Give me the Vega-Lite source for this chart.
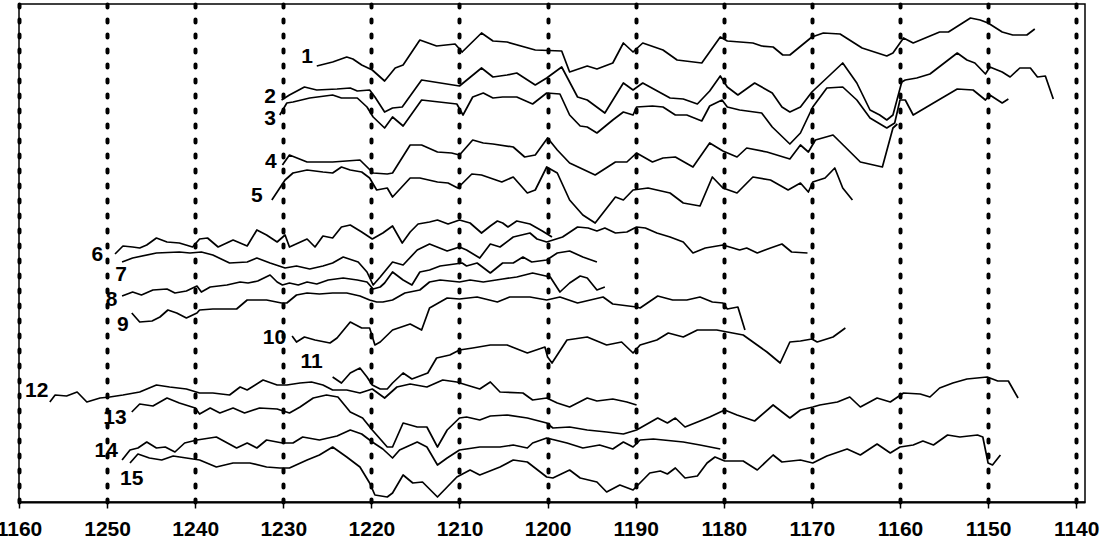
{
  "$schema": "https://vega.github.io/schema/vega-lite/v6.json",
  "width": 1066,
  "height": 498,
  "autosize": {"type": "none"},
  "padding": {"left": 19, "top": 4, "right": 19, "bottom": 46},
  "background": "white",
  "config": {"view": {"stroke": "black", "strokeWidth": 1.5}},
  "datasets": {
    "curves": [
      {"s":1,"w":1226.2,"a":436},{"s":1,"w":1224.4,"a":440},{"s":1,"w":1222.8,"a":445},{"s":1,"w":1222.1,"a":443},{"s":1,"w":1221.1,"a":437},{"s":1,"w":1219.9,"a":432},{"s":1,"w":1218.5,"a":421},{"s":1,"w":1217.3,"a":434},{"s":1,"w":1216.4,"a":437},{"s":1,"w":1214.5,"a":462},{"s":1,"w":1212.6,"a":456},{"s":1,"w":1210.5,"a":458},{"s":1,"w":1209.7,"a":450},{"s":1,"w":1207.5,"a":469},{"s":1,"w":1206.2,"a":461},{"s":1,"w":1204.6,"a":460},{"s":1,"w":1201.4,"a":452},{"s":1,"w":1198.4,"a":451},{"s":1,"w":1197.5,"a":430},{"s":1,"w":1195.5,"a":436},{"s":1,"w":1194.4,"a":433},{"s":1,"w":1192.6,"a":439},{"s":1,"w":1191.4,"a":459},{"s":1,"w":1190.3,"a":450},{"s":1,"w":1189.2,"a":459},{"s":1,"w":1186.9,"a":452},{"s":1,"w":1185.3,"a":442},{"s":1,"w":1182.5,"a":439},{"s":1,"w":1180.4,"a":465},{"s":1,"w":1179.6,"a":461},{"s":1,"w":1176.7,"a":459},{"s":1,"w":1175.7,"a":456},{"s":1,"w":1174.4,"a":455},{"s":1,"w":1173.3,"a":447},{"s":1,"w":1172.5,"a":447},{"s":1,"w":1170.0,"a":465},{"s":1,"w":1168.7,"a":469},{"s":1,"w":1166.8,"a":468},{"s":1,"w":1164.3,"a":454},{"s":1,"w":1161.5,"a":446},{"s":1,"w":1160.8,"a":449},{"s":1,"w":1159.6,"a":464},{"s":1,"w":1158.5,"a":459},{"s":1,"w":1155.5,"a":470},{"s":1,"w":1154.5,"a":470},{"s":1,"w":1152.0,"a":484},{"s":1,"w":1150.9,"a":482},{"s":1,"w":1150.0,"a":479},{"s":1,"w":1148.4,"a":470},{"s":1,"w":1147.2,"a":467},{"s":1,"w":1145.6,"a":467},{"s":1,"w":1144.7,"a":473},
      {"s":2,"w":1230.2,"a":402},{"s":2,"w":1229.3,"a":407},{"s":2,"w":1227.6,"a":415},{"s":2,"w":1226.2,"a":412},{"s":2,"w":1223.9,"a":413},{"s":2,"w":1222.4,"a":414},{"s":2,"w":1221.6,"a":411},{"s":2,"w":1220.2,"a":412},{"s":2,"w":1219.6,"a":405},{"s":2,"w":1218.5,"a":390},{"s":2,"w":1217.6,"a":394},{"s":2,"w":1216.5,"a":395},{"s":2,"w":1214.3,"a":422},{"s":2,"w":1210.0,"a":416},{"s":2,"w":1207.5,"a":434},{"s":2,"w":1206.2,"a":425},{"s":2,"w":1204.6,"a":427},{"s":2,"w":1203.5,"a":429},{"s":2,"w":1201.4,"a":417},{"s":2,"w":1200.1,"a":424},{"s":2,"w":1198.4,"a":435},{"s":2,"w":1196.6,"a":405},{"s":2,"w":1195.5,"a":402},{"s":2,"w":1193.5,"a":389},{"s":2,"w":1191.4,"a":419},{"s":2,"w":1190.3,"a":412},{"s":2,"w":1189.2,"a":419},{"s":2,"w":1186.1,"a":404},{"s":2,"w":1184.6,"a":403},{"s":2,"w":1183.0,"a":398},{"s":2,"w":1181.6,"a":411},{"s":2,"w":1180.4,"a":426},{"s":2,"w":1179.6,"a":415},{"s":2,"w":1178.4,"a":407},{"s":2,"w":1176.5,"a":419},{"s":2,"w":1174.5,"a":409},{"s":2,"w":1173.4,"a":395},{"s":2,"w":1172.5,"a":390},{"s":2,"w":1171.3,"a":395},{"s":2,"w":1170.0,"a":410},{"s":2,"w":1166.5,"a":439},{"s":2,"w":1164.9,"a":419},{"s":2,"w":1163.4,"a":392},{"s":2,"w":1162.3,"a":387},{"s":2,"w":1161.5,"a":382},{"s":2,"w":1160.8,"a":387},{"s":2,"w":1159.8,"a":420},{"s":2,"w":1159.4,"a":422},{"s":2,"w":1158.1,"a":424},{"s":2,"w":1156.6,"a":428},{"s":2,"w":1153.5,"a":449},{"s":2,"w":1152.4,"a":442},{"s":2,"w":1151.5,"a":439},{"s":2,"w":1150.3,"a":428},{"s":2,"w":1149.8,"a":435},{"s":2,"w":1148.4,"a":430},{"s":2,"w":1147.5,"a":425},{"s":2,"w":1146.4,"a":434},{"s":2,"w":1145.2,"a":434},{"s":2,"w":1144.4,"a":425},{"s":2,"w":1143.5,"a":426},{"s":2,"w":1142.6,"a":403},
      {"s":3,"w":1230.4,"a":387},{"s":3,"w":1229.6,"a":399},{"s":3,"w":1228.9,"a":400},{"s":3,"w":1227.0,"a":404},{"s":3,"w":1224.4,"a":407},{"s":3,"w":1223.4,"a":404},{"s":3,"w":1221.6,"a":404},{"s":3,"w":1220.5,"a":395},{"s":3,"w":1219.8,"a":385},{"s":3,"w":1218.5,"a":374},{"s":3,"w":1217.6,"a":385},{"s":3,"w":1216.4,"a":376},{"s":3,"w":1214.3,"a":402},{"s":3,"w":1210.3,"a":398},{"s":3,"w":1209.6,"a":387},{"s":3,"w":1208.5,"a":405},{"s":3,"w":1207.3,"a":409},{"s":3,"w":1206.2,"a":404},{"s":3,"w":1205.1,"a":405},{"s":3,"w":1203.5,"a":405},{"s":3,"w":1201.7,"a":398},{"s":3,"w":1200.1,"a":409},{"s":3,"w":1198.6,"a":408},{"s":3,"w":1197.5,"a":387},{"s":3,"w":1196.3,"a":376},{"s":3,"w":1195.5,"a":375},{"s":3,"w":1194.4,"a":369},{"s":3,"w":1192.6,"a":382},{"s":3,"w":1191.4,"a":390},{"s":3,"w":1190.3,"a":387},{"s":3,"w":1189.9,"a":395},{"s":3,"w":1188.1,"a":396},{"s":3,"w":1186.9,"a":395},{"s":3,"w":1185.5,"a":387},{"s":3,"w":1184.2,"a":387},{"s":3,"w":1182.5,"a":381},{"s":3,"w":1181.6,"a":396},{"s":3,"w":1180.2,"a":402},{"s":3,"w":1179.6,"a":395},{"s":3,"w":1178.2,"a":392},{"s":3,"w":1175.7,"a":389},{"s":3,"w":1174.5,"a":375},{"s":3,"w":1172.5,"a":358},{"s":3,"w":1171.3,"a":369},{"s":3,"w":1169.9,"a":395},{"s":3,"w":1168.3,"a":414},{"s":3,"w":1166.5,"a":415},{"s":3,"w":1164.9,"a":402},{"s":3,"w":1163.4,"a":384},{"s":3,"w":1161.5,"a":374},{"s":3,"w":1160.6,"a":379},{"s":3,"w":1160.0,"a":402},{"s":3,"w":1159.4,"a":402},{"s":3,"w":1158.5,"a":387},{"s":3,"w":1156.2,"a":399},{"s":3,"w":1153.5,"a":413},{"s":3,"w":1151.7,"a":412},{"s":3,"w":1150.3,"a":402},{"s":3,"w":1149.8,"a":407},{"s":3,"w":1148.4,"a":399},{"s":3,"w":1147.7,"a":403},
      {"s":4,"w":1230.1,"a":337},{"s":4,"w":1229.3,"a":347},{"s":4,"w":1227.3,"a":340},{"s":4,"w":1224.4,"a":340},{"s":4,"w":1221.3,"a":342},{"s":4,"w":1219.8,"a":329},{"s":4,"w":1218.2,"a":328},{"s":4,"w":1217.6,"a":329},{"s":4,"w":1215.6,"a":357},{"s":4,"w":1214.3,"a":357},{"s":4,"w":1212.5,"a":350},{"s":4,"w":1210.9,"a":349},{"s":4,"w":1210.0,"a":347},{"s":4,"w":1208.5,"a":362},{"s":4,"w":1207.3,"a":359},{"s":4,"w":1206.2,"a":358},{"s":4,"w":1203.9,"a":355},{"s":4,"w":1202.6,"a":345},{"s":4,"w":1201.4,"a":347},{"s":4,"w":1200.0,"a":364},{"s":4,"w":1198.9,"a":352},{"s":4,"w":1197.5,"a":339},{"s":4,"w":1194.6,"a":327},{"s":4,"w":1192.3,"a":340},{"s":4,"w":1191.0,"a":340},{"s":4,"w":1189.9,"a":349},{"s":4,"w":1188.1,"a":340},{"s":4,"w":1186.9,"a":344},{"s":4,"w":1185.5,"a":345},{"s":4,"w":1183.5,"a":335},{"s":4,"w":1181.6,"a":359},{"s":4,"w":1180.1,"a":351},{"s":4,"w":1178.5,"a":345},{"s":4,"w":1177.4,"a":354},{"s":4,"w":1175.1,"a":350},{"s":4,"w":1172.5,"a":343},{"s":4,"w":1171.3,"a":357},{"s":4,"w":1170.4,"a":350},{"s":4,"w":1169.6,"a":362},{"s":4,"w":1167.6,"a":367},{"s":4,"w":1164.5,"a":340},{"s":4,"w":1162.0,"a":335},{"s":4,"w":1160.8,"a":374},{"s":4,"w":1160.3,"a":378},
      {"s":5,"w":1231.3,"a":302},{"s":5,"w":1229.8,"a":322},{"s":5,"w":1228.9,"a":329},{"s":5,"w":1227.3,"a":332},{"s":5,"w":1225.5,"a":330},{"s":5,"w":1224.4,"a":329},{"s":5,"w":1223.4,"a":335},{"s":5,"w":1222.4,"a":332},{"s":5,"w":1221.1,"a":330},{"s":5,"w":1220.2,"a":324},{"s":5,"w":1219.4,"a":312},{"s":5,"w":1218.2,"a":314},{"s":5,"w":1217.6,"a":305},{"s":5,"w":1215.6,"a":324},{"s":5,"w":1214.5,"a":324},{"s":5,"w":1212.5,"a":320},{"s":5,"w":1211.3,"a":319},{"s":5,"w":1210.2,"a":314},{"s":5,"w":1208.6,"a":328},{"s":5,"w":1207.5,"a":327},{"s":5,"w":1205.2,"a":320},{"s":5,"w":1203.9,"a":325},{"s":5,"w":1202.3,"a":309},{"s":5,"w":1201.4,"a":312},{"s":5,"w":1200.1,"a":335},{"s":5,"w":1198.9,"a":329},{"s":5,"w":1197.5,"a":302},{"s":5,"w":1196.0,"a":287},{"s":5,"w":1194.6,"a":279},{"s":5,"w":1192.3,"a":305},{"s":5,"w":1191.4,"a":302},{"s":5,"w":1190.3,"a":312},{"s":5,"w":1188.6,"a":314},{"s":5,"w":1186.1,"a":309},{"s":5,"w":1184.6,"a":299},{"s":5,"w":1182.7,"a":296},{"s":5,"w":1181.3,"a":325},{"s":5,"w":1180.1,"a":314},{"s":5,"w":1178.5,"a":309},{"s":5,"w":1176.7,"a":325},{"s":5,"w":1174.7,"a":322},{"s":5,"w":1172.7,"a":312},{"s":5,"w":1171.3,"a":319},{"s":5,"w":1170.4,"a":310},{"s":5,"w":1169.9,"a":320},{"s":5,"w":1168.5,"a":324},{"s":5,"w":1167.4,"a":334},{"s":5,"w":1166.5,"a":314},{"s":5,"w":1165.4,"a":302},
      {"s":6,"w":1249.1,"a":248},{"s":6,"w":1248.2,"a":256},{"s":6,"w":1247.1,"a":255},{"s":6,"w":1246.3,"a":254},{"s":6,"w":1245.5,"a":257},{"s":6,"w":1244.4,"a":264},{"s":6,"w":1243.2,"a":260},{"s":6,"w":1241.8,"a":259},{"s":6,"w":1240.3,"a":255},{"s":6,"w":1239.5,"a":263},{"s":6,"w":1238.6,"a":264},{"s":6,"w":1237.4,"a":255},{"s":6,"w":1235.7,"a":262},{"s":6,"w":1234.1,"a":256},{"s":6,"w":1233.0,"a":272},{"s":6,"w":1231.9,"a":267},{"s":6,"w":1230.7,"a":260},{"s":6,"w":1229.8,"a":267},{"s":6,"w":1229.3,"a":255},{"s":6,"w":1227.3,"a":263},{"s":6,"w":1226.4,"a":255},{"s":6,"w":1225.5,"a":266},{"s":6,"w":1224.4,"a":264},{"s":6,"w":1223.4,"a":275},{"s":6,"w":1222.4,"a":277},{"s":6,"w":1221.1,"a":270},{"s":6,"w":1219.9,"a":263},{"s":6,"w":1218.7,"a":269},{"s":6,"w":1217.6,"a":276},{"s":6,"w":1216.5,"a":259},{"s":6,"w":1215.6,"a":270},{"s":6,"w":1214.7,"a":278},{"s":6,"w":1213.4,"a":280},{"s":6,"w":1212.5,"a":282},{"s":6,"w":1211.3,"a":278},{"s":6,"w":1210.0,"a":282},{"s":6,"w":1208.8,"a":279},{"s":6,"w":1207.5,"a":269},{"s":6,"w":1206.5,"a":276},{"s":6,"w":1205.7,"a":281},{"s":6,"w":1205.1,"a":279},{"s":6,"w":1204.5,"a":275},{"s":6,"w":1203.5,"a":281},{"s":6,"w":1202.0,"a":278},{"s":6,"w":1200.6,"a":271},{"s":6,"w":1199.5,"a":265},
      {"s":7,"w":1248.3,"a":240},{"s":7,"w":1247.1,"a":244},{"s":7,"w":1244.4,"a":249},{"s":7,"w":1241.8,"a":250},{"s":7,"w":1240.6,"a":249},{"s":7,"w":1239.3,"a":250},{"s":7,"w":1238.0,"a":247},{"s":7,"w":1236.1,"a":239},{"s":7,"w":1234.1,"a":240},{"s":7,"w":1233.0,"a":244},{"s":7,"w":1231.5,"a":239},{"s":7,"w":1229.8,"a":234},{"s":7,"w":1228.5,"a":236},{"s":7,"w":1227.0,"a":233},{"s":7,"w":1225.5,"a":236},{"s":7,"w":1224.4,"a":239},{"s":7,"w":1223.2,"a":245},{"s":7,"w":1221.5,"a":240},{"s":7,"w":1220.5,"a":230},{"s":7,"w":1219.8,"a":217},{"s":7,"w":1219.0,"a":225},{"s":7,"w":1217.6,"a":240},{"s":7,"w":1216.4,"a":237},{"s":7,"w":1214.8,"a":252},{"s":7,"w":1213.4,"a":258},{"s":7,"w":1211.4,"a":251},{"s":7,"w":1210.0,"a":255},{"s":7,"w":1209.2,"a":252},{"s":7,"w":1207.7,"a":244},{"s":7,"w":1206.5,"a":258},{"s":7,"w":1205.4,"a":255},{"s":7,"w":1203.9,"a":265},{"s":7,"w":1202.0,"a":269},{"s":7,"w":1201.2,"a":263},{"s":7,"w":1200.1,"a":260},{"s":7,"w":1198.3,"a":265},{"s":7,"w":1196.6,"a":275},{"s":7,"w":1195.4,"a":274},{"s":7,"w":1194.4,"a":271},{"s":7,"w":1193.5,"a":274},{"s":7,"w":1192.3,"a":269},{"s":7,"w":1191.0,"a":270},{"s":7,"w":1189.9,"a":275},{"s":7,"w":1188.9,"a":274},{"s":7,"w":1187.6,"a":269},{"s":7,"w":1186.1,"a":265},{"s":7,"w":1184.6,"a":260},{"s":7,"w":1183.5,"a":249},{"s":7,"w":1182.1,"a":254},{"s":7,"w":1180.1,"a":257},{"s":7,"w":1178.2,"a":252},{"s":7,"w":1177.4,"a":254},{"s":7,"w":1176.2,"a":249},{"s":7,"w":1174.7,"a":254},{"s":7,"w":1173.4,"a":258},{"s":7,"w":1172.3,"a":250},{"s":7,"w":1170.5,"a":249},
      {"s":8,"w":1248.3,"a":206},{"s":8,"w":1247.1,"a":210},{"s":8,"w":1246.1,"a":207},{"s":8,"w":1244.8,"a":212},{"s":8,"w":1243.2,"a":213},{"s":8,"w":1242.3,"a":209},{"s":8,"w":1241.0,"a":211},{"s":8,"w":1239.8,"a":216},{"s":8,"w":1239.3,"a":210},{"s":8,"w":1238.3,"a":215},{"s":8,"w":1236.4,"a":217},{"s":8,"w":1234.9,"a":220},{"s":8,"w":1234.0,"a":219},{"s":8,"w":1232.9,"a":221},{"s":8,"w":1231.5,"a":227},{"s":8,"w":1230.7,"a":220},{"s":8,"w":1230.1,"a":217},{"s":8,"w":1229.3,"a":219},{"s":8,"w":1228.3,"a":217},{"s":8,"w":1227.3,"a":220},{"s":8,"w":1226.2,"a":218},{"s":8,"w":1224.9,"a":222},{"s":8,"w":1223.2,"a":224},{"s":8,"w":1221.6,"a":222},{"s":8,"w":1220.5,"a":220},{"s":8,"w":1219.8,"a":213},{"s":8,"w":1219.0,"a":215},{"s":8,"w":1218.5,"a":219},{"s":8,"w":1217.6,"a":230},{"s":8,"w":1216.4,"a":222},{"s":8,"w":1215.4,"a":217},{"s":8,"w":1214.5,"a":230},{"s":8,"w":1213.4,"a":232},{"s":8,"w":1212.2,"a":236},{"s":8,"w":1209.7,"a":239},{"s":8,"w":1209.2,"a":236},{"s":8,"w":1208.0,"a":239},{"s":8,"w":1206.5,"a":229},{"s":8,"w":1205.1,"a":239},{"s":8,"w":1203.9,"a":239},{"s":8,"w":1202.8,"a":245},{"s":8,"w":1201.8,"a":240},{"s":8,"w":1200.1,"a":242},{"s":8,"w":1198.9,"a":249},{"s":8,"w":1197.5,"a":251},{"s":8,"w":1196.0,"a":245},{"s":8,"w":1194.4,"a":240},
      {"s":9,"w":1247.2,"a":189},{"s":9,"w":1246.3,"a":180},{"s":9,"w":1244.9,"a":181},{"s":9,"w":1244.0,"a":185},{"s":9,"w":1243.1,"a":192},{"s":9,"w":1242.1,"a":189},{"s":9,"w":1241.0,"a":184},{"s":9,"w":1239.8,"a":189},{"s":9,"w":1239.5,"a":192},{"s":9,"w":1238.0,"a":193},{"s":9,"w":1235.3,"a":193},{"s":9,"w":1234.1,"a":202},{"s":9,"w":1231.9,"a":202},{"s":9,"w":1230.2,"a":199},{"s":9,"w":1229.6,"a":199},{"s":9,"w":1228.5,"a":207},{"s":9,"w":1227.3,"a":209},{"s":9,"w":1225.9,"a":208},{"s":9,"w":1224.4,"a":209},{"s":9,"w":1222.8,"a":209},{"s":9,"w":1221.3,"a":206},{"s":9,"w":1220.2,"a":202},{"s":9,"w":1219.4,"a":200},{"s":9,"w":1218.7,"a":200},{"s":9,"w":1217.6,"a":202},{"s":9,"w":1216.2,"a":209},{"s":9,"w":1214.5,"a":212},{"s":9,"w":1213.4,"a":220},{"s":9,"w":1212.2,"a":222},{"s":9,"w":1210.0,"a":220},{"s":9,"w":1208.8,"a":222},{"s":9,"w":1207.3,"a":220},{"s":9,"w":1205.1,"a":223},{"s":9,"w":1203.5,"a":225},{"s":9,"w":1201.7,"a":229},{"s":9,"w":1199.7,"a":225},{"s":9,"w":1198.6,"a":210},{"s":9,"w":1197.5,"a":219},{"s":9,"w":1196.3,"a":226},{"s":9,"w":1195.5,"a":224},{"s":9,"w":1194.4,"a":212},{"s":9,"w":1193.5,"a":215},
      {"s":10,"w":1229.0,"a":166},{"s":10,"w":1228.5,"a":160},{"s":10,"w":1227.6,"a":165},{"s":10,"w":1226.4,"a":162},{"s":10,"w":1224.7,"a":159},{"s":10,"w":1223.9,"a":164},{"s":10,"w":1222.4,"a":180},{"s":10,"w":1221.1,"a":174},{"s":10,"w":1220.2,"a":174},{"s":10,"w":1219.6,"a":157},{"s":10,"w":1219.0,"a":160},{"s":10,"w":1217.6,"a":172},{"s":10,"w":1215.6,"a":178},{"s":10,"w":1214.3,"a":172},{"s":10,"w":1213.4,"a":194},{"s":10,"w":1211.4,"a":204},{"s":10,"w":1210.0,"a":203},{"s":10,"w":1208.0,"a":205},{"s":10,"w":1205.7,"a":200},{"s":10,"w":1204.3,"a":205},{"s":10,"w":1202.0,"a":205},{"s":10,"w":1200.1,"a":202},{"s":10,"w":1198.6,"a":205},{"s":10,"w":1196.6,"a":199},{"s":10,"w":1193.7,"a":205},{"s":10,"w":1192.6,"a":198},{"s":10,"w":1189.9,"a":195},{"s":10,"w":1189.5,"a":194},{"s":10,"w":1187.5,"a":206},{"s":10,"w":1185.8,"a":202},{"s":10,"w":1184.2,"a":202},{"s":10,"w":1182.7,"a":205},{"s":10,"w":1181.3,"a":200},{"s":10,"w":1180.1,"a":199},{"s":10,"w":1179.6,"a":193},{"s":10,"w":1178.4,"a":195},{"s":10,"w":1177.6,"a":172},
      {"s":11,"w":1224.4,"a":125},{"s":11,"w":1223.4,"a":119},{"s":11,"w":1222.4,"a":129},{"s":11,"w":1221.3,"a":134},{"s":11,"w":1220.5,"a":125},{"s":11,"w":1219.9,"a":117},{"s":11,"w":1219.0,"a":113},{"s":11,"w":1218.2,"a":113},{"s":11,"w":1217.6,"a":119},{"s":11,"w":1216.4,"a":129},{"s":11,"w":1215.4,"a":123},{"s":11,"w":1213.6,"a":129},{"s":11,"w":1212.6,"a":144},{"s":11,"w":1211.1,"a":147},{"s":11,"w":1210.0,"a":152},{"s":11,"w":1208.5,"a":154},{"s":11,"w":1206.5,"a":157},{"s":11,"w":1204.6,"a":157},{"s":11,"w":1202.3,"a":149},{"s":11,"w":1200.3,"a":155},{"s":11,"w":1200.0,"a":145},{"s":11,"w":1199.5,"a":139},{"s":11,"w":1197.8,"a":162},{"s":11,"w":1195.5,"a":165},{"s":11,"w":1193.3,"a":157},{"s":11,"w":1191.6,"a":160},{"s":11,"w":1190.3,"a":149},{"s":11,"w":1189.5,"a":157},{"s":11,"w":1187.6,"a":162},{"s":11,"w":1186.3,"a":169},{"s":11,"w":1184.6,"a":165},{"s":11,"w":1183.0,"a":172},{"s":11,"w":1180.8,"a":172},{"s":11,"w":1179.6,"a":170},{"s":11,"w":1177.8,"a":167},{"s":11,"w":1175.1,"a":150},{"s":11,"w":1173.6,"a":139},{"s":11,"w":1172.5,"a":160},{"s":11,"w":1171.3,"a":161},{"s":11,"w":1170.0,"a":163},{"s":11,"w":1169.4,"a":160},{"s":11,"w":1167.6,"a":165},{"s":11,"w":1166.2,"a":174},
      {"s":12,"w":1256.5,"a":100},{"s":12,"w":1255.9,"a":107},{"s":12,"w":1254.6,"a":106},{"s":12,"w":1253.4,"a":110},{"s":12,"w":1252.3,"a":100},{"s":12,"w":1250.8,"a":104},{"s":12,"w":1249.7,"a":105},{"s":12,"w":1248.2,"a":107},{"s":12,"w":1246.3,"a":110},{"s":12,"w":1244.4,"a":117},{"s":12,"w":1242.9,"a":115},{"s":12,"w":1241.0,"a":113},{"s":12,"w":1239.5,"a":109},{"s":12,"w":1238.0,"a":109},{"s":12,"w":1236.1,"a":107},{"s":12,"w":1234.9,"a":115},{"s":12,"w":1234.1,"a":112},{"s":12,"w":1232.3,"a":122},{"s":12,"w":1230.7,"a":117},{"s":12,"w":1229.6,"a":117},{"s":12,"w":1228.1,"a":119},{"s":12,"w":1226.8,"a":120},{"s":12,"w":1225.5,"a":117},{"s":12,"w":1224.4,"a":112},{"s":12,"w":1222.8,"a":112},{"s":12,"w":1221.3,"a":109},{"s":12,"w":1219.9,"a":113},{"s":12,"w":1218.5,"a":104},{"s":12,"w":1217.1,"a":115},{"s":12,"w":1215.6,"a":118},{"s":12,"w":1213.7,"a":115},{"s":12,"w":1211.9,"a":122},{"s":12,"w":1210.3,"a":120},{"s":12,"w":1209.2,"a":117},{"s":12,"w":1207.7,"a":113},{"s":12,"w":1206.5,"a":120},{"s":12,"w":1205.4,"a":110},{"s":12,"w":1202.8,"a":109},{"s":12,"w":1201.7,"a":102},{"s":12,"w":1200.1,"a":104},{"s":12,"w":1198.9,"a":99},{"s":12,"w":1197.5,"a":95},{"s":12,"w":1195.5,"a":104},{"s":12,"w":1194.4,"a":101},{"s":12,"w":1192.6,"a":103},{"s":12,"w":1191.0,"a":100},{"s":12,"w":1189.9,"a":97},
      {"s":13,"w":1247.2,"a":90},{"s":13,"w":1246.3,"a":98},{"s":13,"w":1244.8,"a":96},{"s":13,"w":1243.2,"a":104},{"s":13,"w":1241.8,"a":99},{"s":13,"w":1240.0,"a":94},{"s":13,"w":1239.5,"a":88},{"s":13,"w":1238.3,"a":94},{"s":13,"w":1237.2,"a":89},{"s":13,"w":1235.7,"a":94},{"s":13,"w":1234.4,"a":89},{"s":13,"w":1232.7,"a":94},{"s":13,"w":1230.7,"a":93},{"s":13,"w":1229.3,"a":89},{"s":13,"w":1228.1,"a":95},{"s":13,"w":1226.6,"a":104},{"s":13,"w":1225.1,"a":107},{"s":13,"w":1223.8,"a":105},{"s":13,"w":1222.4,"a":90},{"s":13,"w":1221.0,"a":84},{"s":13,"w":1219.9,"a":72},{"s":13,"w":1218.2,"a":55},{"s":13,"w":1217.6,"a":55},{"s":13,"w":1216.4,"a":79},{"s":13,"w":1214.8,"a":75},{"s":13,"w":1213.7,"a":75},{"s":13,"w":1212.5,"a":55},{"s":13,"w":1211.4,"a":72},{"s":13,"w":1210.0,"a":84},{"s":13,"w":1209.2,"a":85},{"s":13,"w":1207.7,"a":82},{"s":13,"w":1206.5,"a":86},{"s":13,"w":1204.6,"a":87},{"s":13,"w":1202.3,"a":84},{"s":13,"w":1200.1,"a":79},{"s":13,"w":1199.4,"a":74},{"s":13,"w":1197.5,"a":75},{"s":13,"w":1195.5,"a":72},{"s":13,"w":1193.3,"a":70},{"s":13,"w":1191.4,"a":68},{"s":13,"w":1189.9,"a":72},{"s":13,"w":1187.5,"a":84},{"s":13,"w":1186.4,"a":79},{"s":13,"w":1185.5,"a":84},{"s":13,"w":1184.4,"a":75},{"s":13,"w":1182.7,"a":81},{"s":13,"w":1181.6,"a":85},{"s":13,"w":1179.9,"a":92},{"s":13,"w":1178.5,"a":87},{"s":13,"w":1176.5,"a":81},{"s":13,"w":1174.4,"a":97},{"s":13,"w":1172.5,"a":84},{"s":13,"w":1171.3,"a":92},{"s":13,"w":1169.9,"a":95},{"s":13,"w":1169.1,"a":97},{"s":13,"w":1167.1,"a":100},{"s":13,"w":1165.7,"a":105},{"s":13,"w":1164.5,"a":95},{"s":13,"w":1162.6,"a":104},{"s":13,"w":1161.1,"a":100},{"s":13,"w":1159.6,"a":109},{"s":13,"w":1157.7,"a":108},{"s":13,"w":1156.6,"a":105},{"s":13,"w":1155.5,"a":114},{"s":13,"w":1154.0,"a":119},{"s":13,"w":1152.4,"a":123},{"s":13,"w":1150.1,"a":125},{"s":13,"w":1148.9,"a":121},{"s":13,"w":1147.7,"a":121},{"s":13,"w":1146.6,"a":104},
      {"s":14,"w":1248.3,"a":42},{"s":14,"w":1247.4,"a":52},{"s":14,"w":1246.5,"a":54},{"s":14,"w":1245.5,"a":60},{"s":14,"w":1244.4,"a":54},{"s":14,"w":1243.4,"a":55},{"s":14,"w":1242.3,"a":50},{"s":14,"w":1241.2,"a":59},{"s":14,"w":1239.8,"a":62},{"s":14,"w":1237.6,"a":65},{"s":14,"w":1235.3,"a":54},{"s":14,"w":1234.1,"a":59},{"s":14,"w":1233.0,"a":54},{"s":14,"w":1231.9,"a":62},{"s":14,"w":1230.1,"a":59},{"s":14,"w":1228.9,"a":59},{"s":14,"w":1227.8,"a":65},{"s":14,"w":1225.9,"a":62},{"s":14,"w":1223.9,"a":66},{"s":14,"w":1222.4,"a":72},{"s":14,"w":1221.1,"a":68},{"s":14,"w":1219.9,"a":60},{"s":14,"w":1218.7,"a":53},{"s":14,"w":1217.6,"a":44},{"s":14,"w":1216.8,"a":52},{"s":14,"w":1214.8,"a":60},{"s":14,"w":1213.7,"a":55},{"s":14,"w":1212.5,"a":37},{"s":14,"w":1211.4,"a":44},{"s":14,"w":1210.0,"a":52},{"s":14,"w":1207.7,"a":55},{"s":14,"w":1205.4,"a":55},{"s":14,"w":1203.9,"a":57},{"s":14,"w":1202.3,"a":54},{"s":14,"w":1201.7,"a":59},{"s":14,"w":1200.1,"a":64},{"s":14,"w":1197.8,"a":59},{"s":14,"w":1196.0,"a":54},{"s":14,"w":1194.1,"a":57},{"s":14,"w":1192.6,"a":53},{"s":14,"w":1191.4,"a":60},{"s":14,"w":1190.3,"a":55},{"s":14,"w":1189.5,"a":62},{"s":14,"w":1188.0,"a":63},{"s":14,"w":1184.6,"a":60},{"s":14,"w":1182.7,"a":57},{"s":14,"w":1180.4,"a":53},
      {"s":15,"w":1247.4,"a":39},{"s":15,"w":1246.5,"a":48},{"s":15,"w":1245.2,"a":44},{"s":15,"w":1243.8,"a":42},{"s":15,"w":1242.5,"a":46},{"s":15,"w":1241.0,"a":44},{"s":15,"w":1239.5,"a":42},{"s":15,"w":1237.6,"a":35},{"s":15,"w":1235.7,"a":39},{"s":15,"w":1233.8,"a":39},{"s":15,"w":1231.9,"a":35},{"s":15,"w":1230.4,"a":34},{"s":15,"w":1229.3,"a":34},{"s":15,"w":1227.3,"a":42},{"s":15,"w":1225.9,"a":47},{"s":15,"w":1224.4,"a":55},{"s":15,"w":1222.8,"a":45},{"s":15,"w":1221.3,"a":35},{"s":15,"w":1220.2,"a":19},{"s":15,"w":1219.6,"a":7},{"s":15,"w":1218.2,"a":5},{"s":15,"w":1217.6,"a":9},{"s":15,"w":1216.4,"a":27},{"s":15,"w":1215.3,"a":19},{"s":15,"w":1214.2,"a":20},{"s":15,"w":1212.5,"a":5},{"s":15,"w":1211.4,"a":15},{"s":15,"w":1210.3,"a":25},{"s":15,"w":1208.8,"a":32},{"s":15,"w":1207.7,"a":27},{"s":15,"w":1205.4,"a":35},{"s":15,"w":1203.9,"a":42},{"s":15,"w":1202.3,"a":40},{"s":15,"w":1200.1,"a":25},{"s":15,"w":1199.4,"a":24},{"s":15,"w":1197.5,"a":32},{"s":15,"w":1196.3,"a":24},{"s":15,"w":1194.4,"a":20},{"s":15,"w":1193.3,"a":10},{"s":15,"w":1191.8,"a":17},{"s":15,"w":1190.3,"a":12},{"s":15,"w":1188.4,"a":29},{"s":15,"w":1187.2,"a":31},{"s":15,"w":1186.4,"a":28},{"s":15,"w":1185.5,"a":34},{"s":15,"w":1184.4,"a":24},{"s":15,"w":1183.0,"a":26},{"s":15,"w":1181.9,"a":39},{"s":15,"w":1181.0,"a":45},{"s":15,"w":1179.9,"a":41},{"s":15,"w":1177.8,"a":41},{"s":15,"w":1176.2,"a":32},{"s":15,"w":1174.4,"a":47},{"s":15,"w":1173.4,"a":40},{"s":15,"w":1171.3,"a":42},{"s":15,"w":1169.9,"a":39},{"s":15,"w":1168.3,"a":46},{"s":15,"w":1166.0,"a":53},{"s":15,"w":1164.5,"a":47},{"s":15,"w":1162.6,"a":58},{"s":15,"w":1161.1,"a":49},{"s":15,"w":1160.0,"a":55},{"s":15,"w":1158.5,"a":57},{"s":15,"w":1157.4,"a":61},{"s":15,"w":1156.2,"a":57},{"s":15,"w":1154.6,"a":67},{"s":15,"w":1153.2,"a":65},{"s":15,"w":1151.2,"a":67},{"s":15,"w":1150.6,"a":65},{"s":15,"w":1150.0,"a":39},{"s":15,"w":1149.5,"a":37},{"s":15,"w":1148.6,"a":47}
    ],
    "labels": [
      {"t":"1","w":1227.3,"a":445},{"t":"2","w":1231.5,"a":405},{"t":"3","w":1231.5,"a":383},{"t":"4","w":1231.4,"a":340},{"t":"5","w":1233.0,"a":306},
      {"t":"6","w":1251.1,"a":247},{"t":"7","w":1248.4,"a":227},{"t":"8","w":1249.5,"a":202},{"t":"9","w":1248.2,"a":177},{"t":"10","w":1231.0,"a":164},
      {"t":"11","w":1226.8,"a":140},{"t":"12","w":1258.0,"a":111},{"t":"13","w":1249.1,"a":84},{"t":"14","w":1250.1,"a":51},{"t":"15","w":1247.2,"a":23}
    ]
  },
  "encoding": {
    "x": {
      "field": "w", "type": "quantitative",
      "scale": {"domain": [1139, 1260], "reverse": true, "nice": false, "zero": false},
      "axis": {
        "values": [1260, 1250, 1240, 1230, 1220, 1210, 1200, 1190, 1180, 1170, 1160, 1150, 1140],
        "format": "d",
        "labelExpr": "datum.value == 1260 ? '1160' : datum.label",
        "title": null,
        "labelFont": "Liberation Sans", "labelFontWeight": "bold", "labelFontSize": 21, "labelColor": "black",
        "labelPadding": 10, "labelDx": 5, "labelFlush": false, "labelOverlap": false,
        "tickColor": "black", "tickSize": 6, "tickWidth": 1.5,
        "domainColor": "black", "domainWidth": 2,
        "grid": true, "gridColor": "black", "gridOpacity": 1, "gridWidth": 4, "gridDash": [3, 12], "gridCap": "round"
      }
    },
    "y": {
      "field": "a", "type": "quantitative",
      "scale": {"domain": [0, 498], "nice": false, "zero": false},
      "axis": null
    }
  },
  "layer": [
    {
      "data": {"name": "curves"},
      "mark": {"type": "line", "color": "black", "strokeWidth": 1.7, "strokeJoin": "round"},
      "encoding": {"detail": {"field": "s", "type": "nominal"}}
    },
    {
      "data": {"name": "labels"},
      "mark": {"type": "text", "font": "Liberation Sans", "fontWeight": "bold", "fontSize": 21, "color": "black", "align": "center", "baseline": "middle"},
      "encoding": {"text": {"field": "t", "type": "nominal"}}
    }
  ]
}
